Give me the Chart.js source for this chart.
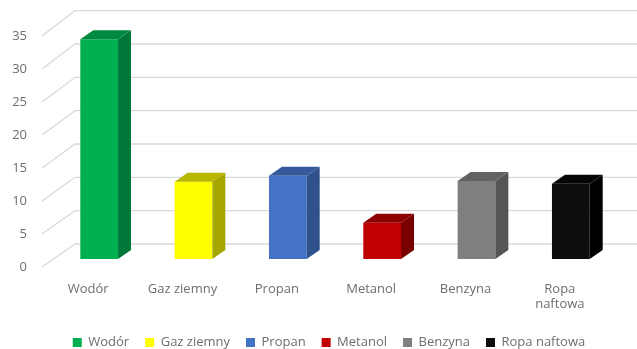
<!DOCTYPE html>
<html>
<head>
<meta charset="utf-8">
<script src="https://cdn.jsdelivr.net/npm/chart.js@4.4.1/dist/chart.umd.min.js"></script>
<style>
html,body{margin:0;padding:0;background:#fff;}
#wrap{width:637px;height:349px;}
</style>
</head>
<body>
<div id="wrap"><canvas id="chart"></canvas></div>
<script>

// ===============================
// Data
// ===============================

const names = ["Wodór", "Gaz ziemny", "Propan", "Metanol", "Benzyna", "Ropa naftowa"];
const axisLabels = ["Wodór", "Gaz ziemny", "Propan", "Metanol", "Benzyna", ["Ropa", "naftowa"]];
const values = [33.3, 11.7, 12.6, 5.5, 11.8, 11.4];

const yMax = 35;
const yStep = 5;

const frontColors = ["#00b050", "#ffff00", "#4472c4", "#c00000", "#7f7f7f", "#0d0d0d"];
const sideColors  = ["#00783a", "#a6a600", "#2f528f", "#7a0000", "#555555", "#000000"];
const topColors   = ["#008a40", "#b8b800", "#34599c", "#8c0000", "#626262", "#050505"];

const FONT = "'Open Sans', sans-serif";
const TEXT = "#6e6e6e";
const GRID = "#d9d9d9";

// depth of the bars and of the wall
const depthX = 13, depthY = 9;

// ===============================
// Back wall + perspective grid
// ===============================

const wallPlugin = {
    id: "wall",
    beforeDatasetsDraw(chart){
        const ctx = chart.ctx;
        const y = chart.scales.y;
        const zero = y.getPixelForValue(0);
        ctx.save();
        ctx.strokeStyle = GRID;
        ctx.lineWidth = 1.3;
        y.ticks.forEach(t => {
            const py = y.getPixelForValue(t.value);
            const back = zero - 15 - (zero - py) * 1.01;
            ctx.beginPath();
            ctx.moveTo(42, py + 8);
            ctx.lineTo(75, back);
            ctx.lineTo(chart.width, back);
            ctx.stroke();
        });
        ctx.restore();
    }
};

// ===============================
// Side and top faces of bars
// ===============================

const boxPlugin = {
    id: "box3d",
    afterDatasetsDraw(chart){
        const ctx = chart.ctx;
        const meta = chart.getDatasetMeta(0);
        ctx.save();
        meta.data.forEach((bar, i) => {
            const w = bar.width;
            const l = bar.x - w / 2;
            const r = bar.x + w / 2;
            const top = bar.y;
            const base = bar.base;

            ctx.fillStyle = sideColors[i];
            ctx.beginPath();
            ctx.moveTo(r, top);
            ctx.lineTo(r + depthX, top - depthY);
            ctx.lineTo(r + depthX, base - depthY);
            ctx.lineTo(r, base);
            ctx.closePath();
            ctx.fill();

            ctx.fillStyle = topColors[i];
            ctx.beginPath();
            ctx.moveTo(l, top);
            ctx.lineTo(l + depthX, top - depthY);
            ctx.lineTo(r + depthX, top - depthY);
            ctx.lineTo(r, top);
            ctx.closePath();
            ctx.fill();
        });
        ctx.restore();
    }
};

// legend sits a bit right of the page centre
const legendShift = {
    id: "legendShift",
    afterLayout(chart){
        chart.legend.left += 20;
        chart.legend.right += 20;
    }
};

// ===============================
// Chart
// ===============================

new Chart(document.getElementById("chart"), {
    type: "bar",
    data: {
        labels: axisLabels,
        datasets: [{
            label: "Wartość",
            data: values,
            backgroundColor: frontColors,
            borderWidth: 0,
            barPercentage: 0.4,
            categoryPercentage: 1
        }]
    },
    options: {
        responsive: true,
        maintainAspectRatio: false,
        animation: false,
        layout: {
            padding: { top: 28, left: 0, right: 19, bottom: -10 }
        },
        scales: {
            x: {
                afterFit(scale){ scale.height = 61; },
                grid: { display: false },
                border: { display: false },
                ticks: {
                    color: TEXT,
                    font: { family: FONT, size: 13 },
                    labelOffset: -11,
                    padding: 14,
                    maxRotation: 0,
                    autoSkip: false
                }
            },
            y: {
                min: 0,
                max: yMax,
                afterFit(scale){
                    scale.width = 52;
                    scale.paddingTop = 0;
                    scale.paddingBottom = 0;
                },
                grid: { display: false, drawTicks: false },
                border: { display: false },
                ticks: {
                    stepSize: yStep,
                    color: TEXT,
                    font: { family: FONT, size: 13 },
                    padding: 25,
                    labelOffset: 8
                }
            }
        },
        plugins: {
            tooltip: { enabled: false },
            legend: {
                position: "bottom",
                labels: {
                    color: TEXT,
                    font: { family: FONT, size: 13 },
                    boxWidth: 9,
                    boxHeight: 9,
                    padding: 16,
                    generateLabels(chart){
                        return names.map((n, i) => ({
                            text: n,
                            fillStyle: frontColors[i],
                            strokeStyle: frontColors[i],
                            lineWidth: 0,
                            fontColor: TEXT,
                            index: i
                        }));
                    }
                }
            }
        }
    },
    plugins: [wallPlugin, boxPlugin, legendShift]
});

</script>
</body>
</html>
